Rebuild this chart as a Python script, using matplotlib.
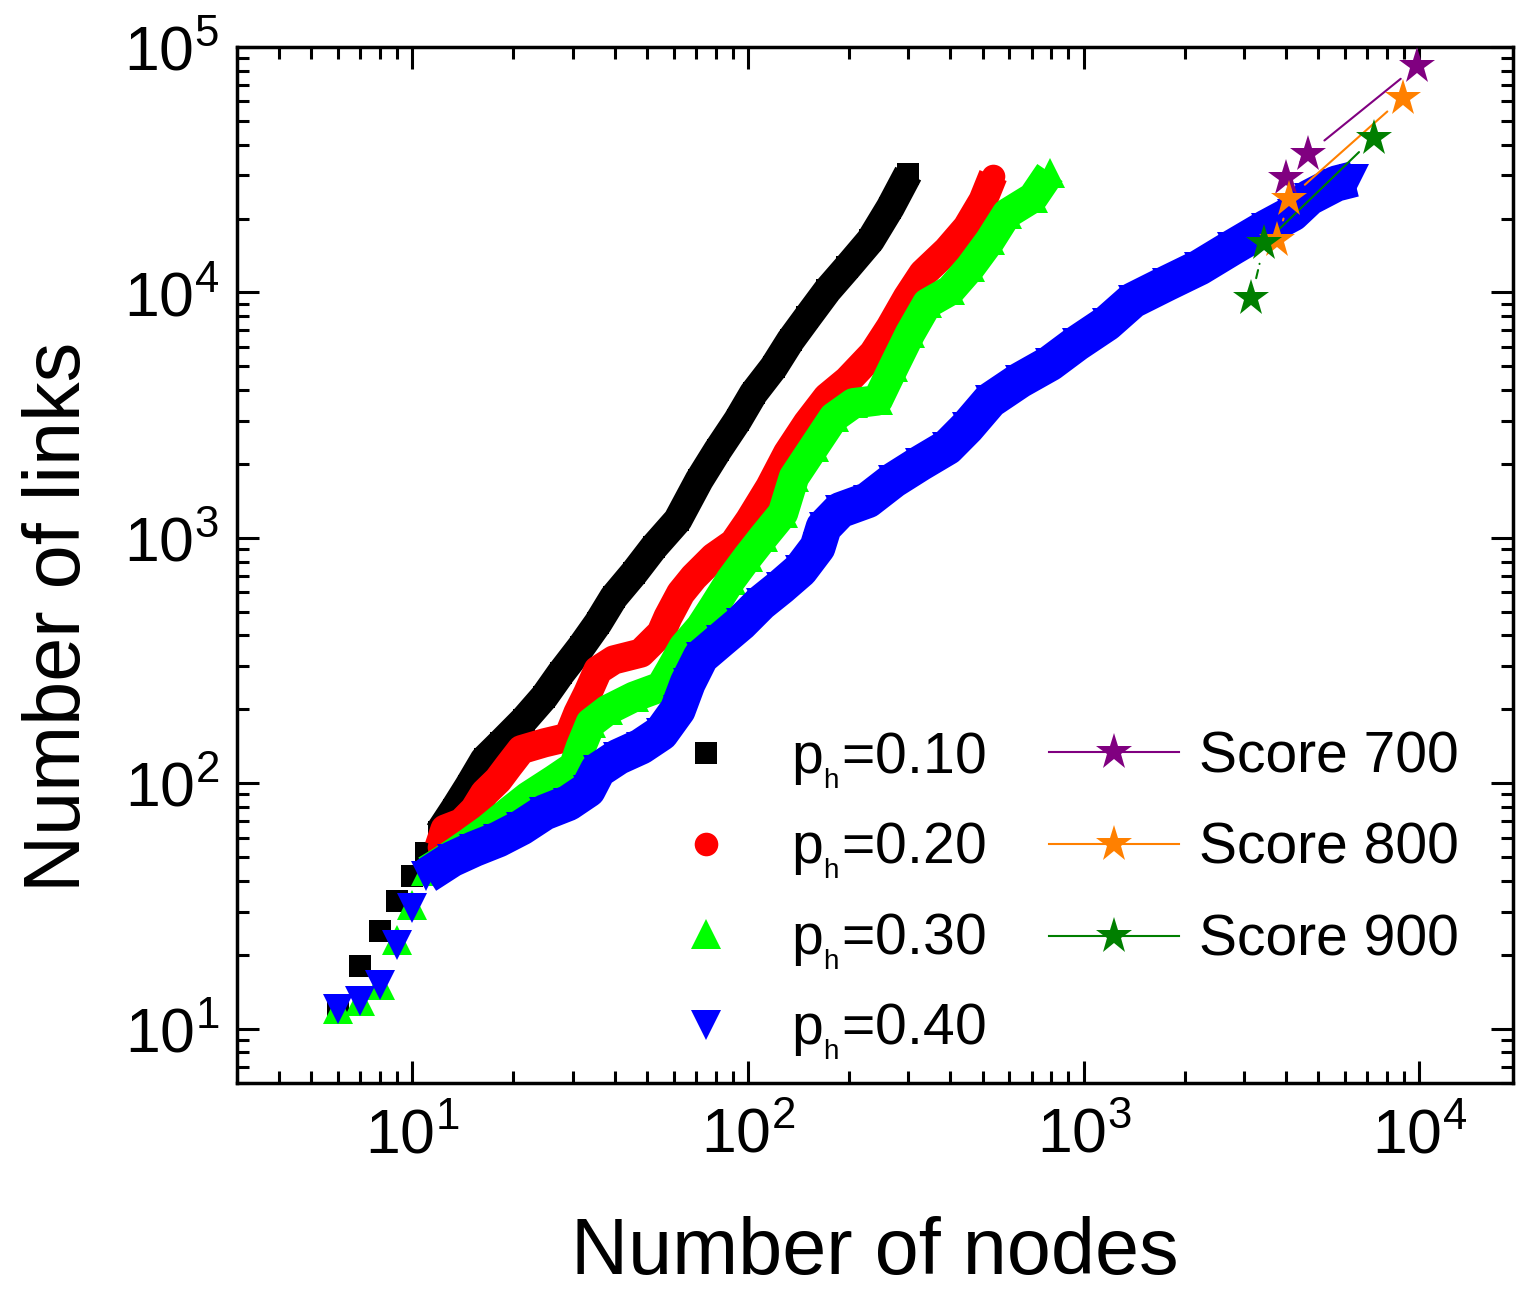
import matplotlib
matplotlib.use("Agg")
import matplotlib.pyplot as plt
from matplotlib.lines import Line2D
from matplotlib.ticker import LogLocator, NullFormatter

plt.rcParams['font.family'] = ['Liberation Sans', 'DejaVu Sans']
plt.rcParams['mathtext.fontset'] = 'custom'
plt.rcParams['mathtext.rm'] = 'Liberation Sans'
plt.rcParams['mathtext.it'] = 'Liberation Sans:italic'
plt.rcParams['mathtext.bf'] = 'Liberation Sans:bold'

# network growth: number of links vs number of nodes for each p_h
ph_values = ['0.10', '0.20', '0.30', '0.40']

nodes_ph10 = [6, 7, 8, 9, 10, 11, 12, 13.3, 14.7, 16.4, 18.4, 21.5, 24.7, 27.7, 31.8,
              35.7, 39.8, 45.7, 52.4, 61.7, 71.5, 81.2, 93.1, 103.8, 119.1, 133.8,
              150.2, 172.3, 197.6, 231.2, 265.2, 300]
links_ph10 = [12, 18, 25, 33, 42, 52, 63, 78, 97, 125, 146, 181, 225, 281, 359,
              449, 573, 718, 916, 1180, 1720, 2275, 3012, 3880, 4950, 6375,
              7911, 10190, 12640, 16280, 22180, 30500]

nodes_ph20 = [12, 12.5, 14, 15.3, 16.4, 18, 19.3, 21.1, 24.7, 29.1, 31.1, 33.3, 35.7,
              39.8, 47.9, 55, 57.7, 63, 68.9, 79, 90.6, 101, 116, 131, 150, 172,
              198, 236, 265, 298, 332, 392, 449, 501, 537]
links_ph20 = [55, 65, 69, 78, 91, 103, 117, 137, 146, 154, 193, 233, 289,
              318, 339, 409, 475, 595, 692, 834, 951, 1180, 1608, 2211, 2929, 3737,
              4383, 5645, 7203, 9541, 11950, 14830, 18390, 23680, 29950]

nodes_ph30 = [6, 7, 8, 9, 10, 11, 12.8, 14.7, 16.8, 19.3, 22.1, 26.4, 30.3, 31.8,
              34, 38.2, 45.7, 55, 58.8, 64.3, 72.3, 79, 88.7, 99.7, 111, 127, 137,
              157, 180, 206, 243, 271, 304, 342, 400, 459, 526, 591, 706, 793]
links_ph30 = [12, 13, 15, 23, 32, 44, 50, 57, 65, 76, 88, 103, 117, 141,
              176, 199, 225, 247, 289, 359, 433, 522, 672, 834, 1006, 1260, 1766,
              2339, 3098, 3533, 3633, 4950, 6808, 9017, 10190, 12640, 16280, 20960,
              24350, 30790]

nodes_ph40 = [6, 7, 8, 9, 10, 11, 13.1, 15.3, 18, 21.1, 24.7, 29.1, 33.3, 35.7, 41,
              47.9, 55, 61.7, 66.1, 72.3, 82.8, 95, 109, 125, 143, 161, 168, 188,
              227, 271, 326, 392, 449, 526, 645, 793, 953, 1170, 1398, 1765, 2211,
              2773, 3499, 4179, 4694, 5647, 6400]
links_ph40 = [12, 13, 15, 22, 31, 42, 49, 54, 59, 66, 76, 83, 94, 113, 128,
              141, 160, 199, 256, 327, 383, 449, 542, 630, 739, 916, 1105, 1296,
              1423, 1717, 2014, 2339, 2821, 3633, 4383, 5139, 6197, 7477, 9275,
              10880, 12640, 15250, 18390, 20960, 24350, 27770, 29000]

# real networks at three confidence scores
score_labels = ['Score 700', 'Score 800', 'Score 900']
nodes_s700 = [4012, 4663, 9831]
links_s700 = [29380, 36800, 83950]
nodes_s800 = [3771, 4095, 8930]
links_s800 = [16280, 24130, 62200]
nodes_s900 = [3158, 3451, 7324]
links_s900 = [9452, 15830, 42750]

fig = plt.figure(figsize=(15.16, 12.89), dpi=100)
ax = fig.add_axes([0.1563, 0.1598, 0.8417, 0.8037])
ax.set_xscale('log')
ax.set_yscale('log')

# (nodes, links, colour, marker, marker size, band width, first index of dense band)
model_runs = [
    (nodes_ph10, links_ph10, 'black', 's', 16, 21, 6),
    (nodes_ph20, links_ph20, '#ff0000', 'o', 17, 21, 0),
    (nodes_ph30, links_ph30, '#00ff00', '^', 21, 22, 5),
    (nodes_ph40, links_ph40, '#0000ff', 'v', 21, 26, 5),
]
model_handles = []
for x, y, c, m, ms, bw, k in model_runs:
    ax.plot(x[k:], y[k:], color=c, lw=bw, solid_capstyle='butt',
            solid_joinstyle='round')
    ax.plot(x, y, ls='none', marker=m, ms=ms, color=c, mew=0)
    model_handles.append(Line2D([], [], ls='none', marker=m, ms=ms, color=c, mew=0))

score_runs = [
    (nodes_s700, links_s700, '#800080', ['-', '-']),
    (nodes_s800, links_s800, '#ff8000', ['-', '-']),
    (nodes_s900, links_s900, '#007f00', [(0, (4, 3)), '-']),
]
score_handles = []
for x, y, c, styles in score_runs:
    for i in range(len(x) - 1):
        ax.annotate('', xy=(x[i + 1], y[i + 1]), xytext=(x[i], y[i]),
                    arrowprops=dict(arrowstyle='-', color=c, lw=1.5,
                                    shrinkA=15, shrinkB=15, ls=styles[i]))
    ax.plot(x, y, ls='none', marker='*', ms=28, color=c, mew=0, zorder=4)
    score_handles.append(Line2D([], [], color=c, lw=1.5, marker='*', ms=28, mew=0))

legend_kw = dict(loc='upper left', frameon=False, fontsize=41, handlelength=2.28,
                 handletextpad=0.35, borderpad=0, borderaxespad=0, numpoints=1)
ph_labels = [r'p$_{{}_{\mathregular{h}}}$=' + v for v in ph_values]
leg_ph = ax.legend(model_handles, ph_labels, bbox_to_anchor=(0.3166, 0.3404),
                   labelspacing=0.53, **legend_kw)
ax.add_artist(leg_ph)
ax.legend(score_handles, score_labels, bbox_to_anchor=(0.6364, 0.3404),
          labelspacing=0.66, **legend_kw)

ax.set_xlim(3, 1.9e4)
ax.set_ylim(6, 1e5)
for axis in (ax.xaxis, ax.yaxis):
    axis.set_major_locator(LogLocator(base=10, numticks=12))
    axis.set_minor_locator(LogLocator(base=10, subs=range(2, 10), numticks=12))
    axis.set_minor_formatter(NullFormatter())

ax.tick_params(which='both', direction='in', top=True, right=True, width=2.2)
ax.tick_params(which='major', length=16, labelsize=45)
ax.tick_params(which='minor', length=8.5)
ax.tick_params(axis='x', pad=17)
ax.tick_params(axis='y', pad=13)
for spine in ax.spines.values():
    spine.set_linewidth(2.5)

ax.set_xlabel('Number of nodes', fontsize=57)
ax.set_ylabel('Number of links', fontsize=57)
ax.xaxis.set_label_coords(0.5, -0.128)
ax.yaxis.set_label_coords(-0.1097, 0.4498)

fig.savefig('out.png', dpi=100, facecolor='white')
